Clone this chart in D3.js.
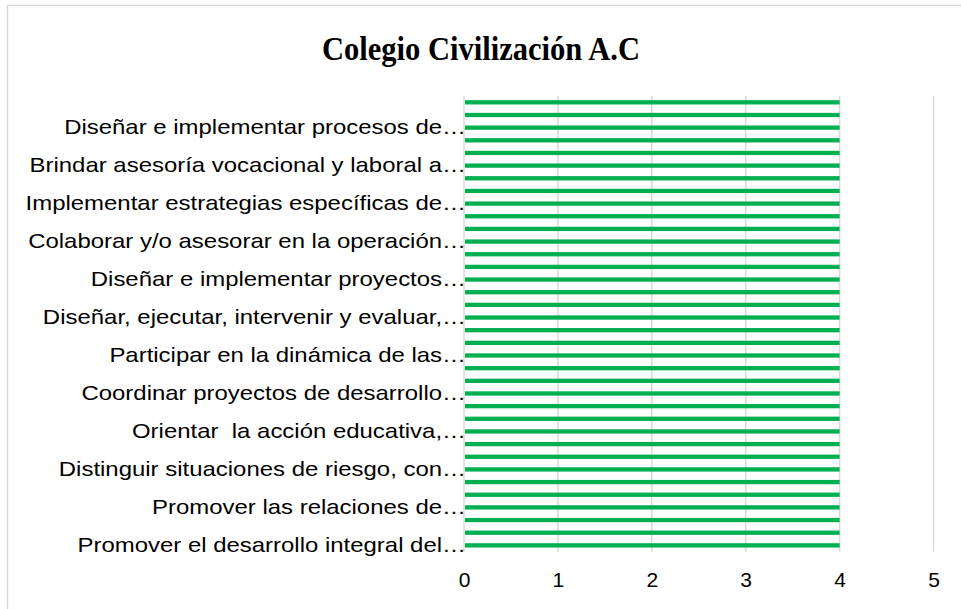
<!DOCTYPE html>
<html>
<head>
<meta charset="utf-8">
<script src="https://cdn.jsdelivr.net/npm/d3@7/dist/d3.min.js"></script>
<style>
  html, body { margin: 0; padding: 0; background: #fff; }
  svg { display: block; }
</style>
</head>
<body>
<svg id="chart" width="961" height="609"></svg>
<script>
// ---- data ----
const title = "Colegio Civilización A.C";
// visible category labels, bottom to top (every third category is labelled)
const visibleLabels = [
  "Promover el desarrollo integral del…",
  "Promover las relaciones de…",
  "Distinguir situaciones de riesgo, con…",
  "Orientar  la acción educativa,…",
  "Coordinar proyectos de desarrollo…",
  "Participar en la dinámica de las…",
  "Diseñar, ejecutar, intervenir y evaluar,…",
  "Diseñar e implementar proyectos…",
  "Colaborar y/o asesorar en la operación…",
  "Implementar estrategias específicas de…",
  "Brindar asesoría vocacional y laboral a…",
  "Diseñar e implementar procesos de…"
];
// 36 categories (bottom to top), each with value 4
const values = [4,4,4,4,4,4,4,4,4,4,4,4,4,4,4,4,4,4,4,4,4,4,4,4,4,4,4,4,4,4,4,4,4,4,4,4];
const xTicks = [0, 1, 2, 3, 4, 5];

// ---- layout ----
const svg = d3.select("#chart");
const plot = { left: 464, right: 933.5, top: 96, bottom: 551.7 };

// chart border (cropped on right/bottom)
svg.append("rect")
  .attr("x", 7.5).attr("y", 5.5)
  .attr("width", 1000).attr("height", 1000)
  .attr("fill", "none").attr("stroke", "#d9d9d9").attr("stroke-width", 1.5);

svg.append("text")
  .attr("x", 481).attr("y", 60)
  .attr("text-anchor", "middle")
  .attr("font-family", "'Liberation Serif', 'Times New Roman', serif")
  .attr("font-weight", "bold")
  .attr("font-size", 33)
  .attr("textLength", 318)
  .attr("lengthAdjust", "spacingAndGlyphs")
  .attr("fill", "#000")
  .text(title);

const x = d3.scaleLinear().domain([0, 5]).range([plot.left, plot.right]);
// index 0 at bottom
const y = d3.scaleBand()
  .domain(d3.range(values.length))
  .range([plot.bottom, plot.top])
  .paddingInner(0.66).paddingOuter(0.33);

// gridlines
svg.append("g").selectAll("line")
  .data(xTicks)
  .join("line")
  .attr("x1", d => x(d)).attr("x2", d => x(d))
  .attr("y1", plot.top).attr("y2", plot.bottom)
  .attr("stroke", "#d9d9d9").attr("stroke-width", 1.5);

// bars
svg.append("g").selectAll("rect")
  .data(values)
  .join("rect")
  .attr("x", x(0) + 1)
  .attr("y", (d, i) => y(i))
  .attr("width", d => x(d) - x(0) - 1)
  .attr("height", y.bandwidth())
  .attr("fill", "#00b050");

// x axis labels
const xAxis = d3.axisBottom(x).tickValues(xTicks).tickSize(0).tickPadding(0).tickFormat(d3.format("d"));
const gx = svg.append("g").attr("transform", `translate(0, ${plot.bottom + 20})`).call(xAxis);
gx.select(".domain").remove();
gx.selectAll("text")
  .attr("font-family", "'Liberation Sans', Arial, sans-serif")
  .attr("font-size", 21).attr("fill", "#000")
  .attr("dy", "0.71em");

// y axis labels: every third category from the bottom
const yCenter = d3.scaleBand().domain(d3.range(values.length)).range([plot.bottom, plot.top]);
const labelIdx = d3.range(0, values.length, 3);
const yAxis = d3.axisLeft(yCenter).tickValues(labelIdx).tickSize(0).tickPadding(0)
  .tickFormat(d => visibleLabels[d / 3]);
const gy = svg.append("g").attr("transform", `translate(${plot.left + 2}, 0)`).call(yAxis);
gy.select(".domain").remove();
gy.selectAll("text")
  .attr("font-family", "'Liberation Sans', Arial, sans-serif")
  .attr("font-size", 21).attr("fill", "#000")
  .style("white-space", "pre")
  .each(function() {
    const w = this.getComputedTextLength();
    d3.select(this).attr("textLength", w * 1.14).attr("lengthAdjust", "spacingAndGlyphs");
  });
</script>
</body>
</html>
